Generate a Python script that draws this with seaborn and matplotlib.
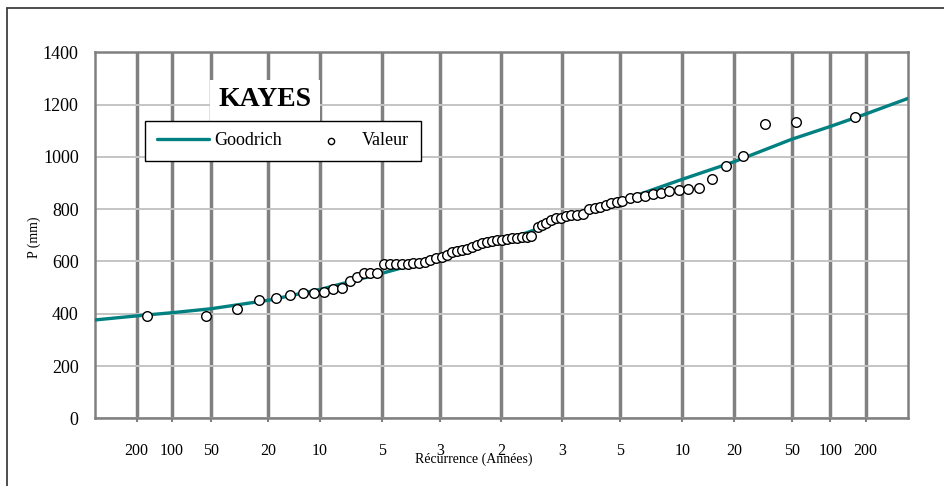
import matplotlib
matplotlib.use("Agg")
import matplotlib.pyplot as plt
from matplotlib.patches import Rectangle
from matplotlib.lines import Line2D
import seaborn as sns
from statistics import NormalDist

# ---------------- data ----------------
station = "KAYES"
# observed annual rainfall (mm) and their reduced normal variate (plotting position)
z_obs = [-2.500, -2.085, -1.866, -1.712, -1.590, -1.491, -1.404, -1.322, -1.253, -1.187,
         -1.126, -1.069, -1.018, -0.968, -0.926, -0.880, -0.827, -0.784, -0.742, -0.700,
         -0.661, -0.620, -0.580, -0.539, -0.500, -0.459, -0.419, -0.380, -0.348, -0.313,
         -0.278, -0.242, -0.207, -0.172, -0.136, -0.101, -0.066, -0.030, 0.005, 0.040,
         0.076, 0.111, 0.146, 0.182, 0.212, 0.257, 0.288, 0.318, 0.351, 0.387,
         0.422, 0.457, 0.495, 0.537, 0.580, 0.624, 0.662, 0.700, 0.740, 0.777,
         0.818, 0.857, 0.912, 0.963, 1.014, 1.071, 1.127, 1.189, 1.254, 1.322,
         1.401, 1.489, 1.590, 1.712, 1.866, 2.083, 2.502]
p_obs = [392, 392, 418, 453, 461, 472, 480, 479, 484, 495,
         498, 525, 540, 555, 557, 557, 589, 590, 590, 590,
         591, 593, 595, 599, 605, 612, 618, 625, 635, 640,
         645, 649, 656, 663, 672, 676, 678, 681, 682, 685,
         688, 691, 694, 695, 697, 731, 739, 748, 759, 765,
         768, 774, 777, 778, 780, 800, 803, 808, 816, 824,
         829, 832, 842, 846, 849, 857, 862, 871, 872, 876,
         880, 915, 965, 1003, 1126, 1135, 1153]
# Goodrich fitted curve
z_fit = [-2.875, -2.572, -2.325, -2.052, -1.640, -1.279, -0.841, -0.431, 0.0, 0.170,
         0.431, 0.841, 1.000, 1.279, 1.640, 2.052, 2.325, 2.572, 2.878]
p_fit = [376, 392, 404, 419, 452, 493, 555, 615, 683, 708,
         757, 831, 861, 914, 980, 1067, 1116, 1163, 1224]
# x-axis: return periods (dry side, median, wet side)
recurrence = [200, 100, 50, 20, 10, 5, 3, 2, 3, 5, 10, 20, 50, 100, 200]
side = [-1, -1, -1, -1, -1, -1, -1, 0, 1, 1, 1, 1, 1, 1, 1]
y_ticks = [0, 200, 400, 600, 800, 1000, 1200, 1400]

# ---------------- figure ----------------
sns.set_theme(style="white")
plt.rcParams["font.family"] = ["Liberation Serif", "DejaVu Serif"]
plt.rcParams["text.color"] = "black"
plt.rcParams["axes.labelcolor"] = "black"
plt.rcParams["xtick.color"] = "black"
plt.rcParams["ytick.color"] = "black"

W, H = 944, 486
fig = plt.figure(figsize=(W / 100, H / 100), dpi=100)
L, R, T, B = 94.7, 908.3, 52.3, 418.3
ax = fig.add_axes([L / W, 1 - B / H, (R - L) / W, (B - T) / H])

sns.lineplot(x=z_fit, y=p_fit, ax=ax, color="#008080", lw=2.4, label="Goodrich",
             zorder=3, sort=True)
sns.scatterplot(x=z_obs, y=p_obs, ax=ax, s=48, color="white", edgecolor="black",
                linewidth=1.0, label="Valeur", zorder=4)

nd = NormalDist()
xt = []
for t, s in zip(recurrence, side):
    if s < 0:
        xt.append(nd.inv_cdf(1 / t))
    elif s > 0:
        xt.append(nd.inv_cdf(1 - 1 / t))
    else:
        xt.append(0.0)

ax.set_xlim(-2.873, 2.878)
ax.set_ylim(0, 1400)
ax.set_xticks(xt)
ax.set_xticklabels([str(t) for t in recurrence])
ax.set_yticks(y_ticks)
ax.set_yticklabels([str(v) for v in y_ticks])

ax.set_axisbelow(True)
ax.grid(axis="x", color="#808080", lw=2.5)
ax.grid(axis="y", color="#c4c4c4", lw=1.4)
for sp in ax.spines.values():
    sp.set_visible(True)
    sp.set_color("#808080")
    sp.set_linewidth(1.8)

ax.tick_params(axis="x", length=3, width=1.5, color="#808080", pad=15,
               labelsize=11.5, labelcolor="black", bottom=True)
ax.tick_params(axis="y", length=0, pad=11.5, labelsize=13, labelcolor="black")

ax.set_xlabel("Récurrence (Années)", fontsize=10, va="center", color="black")
ax.xaxis.set_label_coords((474 - L) / (R - L), -(459 - B) / (B - T))
ax.set_ylabel("P (mm)", fontsize=10, va="center", color="black")
ax.yaxis.set_label_coords((34 - L) / (R - L), (B - 237) / (B - T))

# title box
ax.add_patch(Rectangle((210 / W, 1 - 125 / H), 110 / W, 45 / H, transform=fig.transFigure,
                       facecolor="white", edgecolor="none", zorder=4.5, clip_on=False))
ax.text(265 / W, 1 - 100 / H, station, transform=fig.transFigure, ha="center", va="center",
        fontsize=20, fontweight="bold", color="black", zorder=4.6)

leg = ax.legend(ncol=2, loc="lower left", mode="expand",
                bbox_to_anchor=(145 / W, 1 - 161 / H, 276 / W, 44 / H),
                bbox_transform=fig.transFigure, borderaxespad=0, fontsize=13,
                frameon=True, fancybox=False, framealpha=1, edgecolor="black",
                handlelength=2.9, handletextpad=0.3, markerscale=0.65, borderpad=0.65,
                labelcolor="black")
leg.get_frame().set_linewidth(1.0)
leg.set_zorder(6)

# outer chart border (partially visible)
fig.add_artist(Line2D([7 / W, 7 / W], [0, 1 - 8 / H], transform=fig.transFigure,
                      color="#404040", lw=1.3))
fig.add_artist(Line2D([7 / W, 1], [1 - 8 / H, 1 - 8 / H], transform=fig.transFigure,
                      color="#404040", lw=1.3))

fig.savefig("out.png", dpi=100)
